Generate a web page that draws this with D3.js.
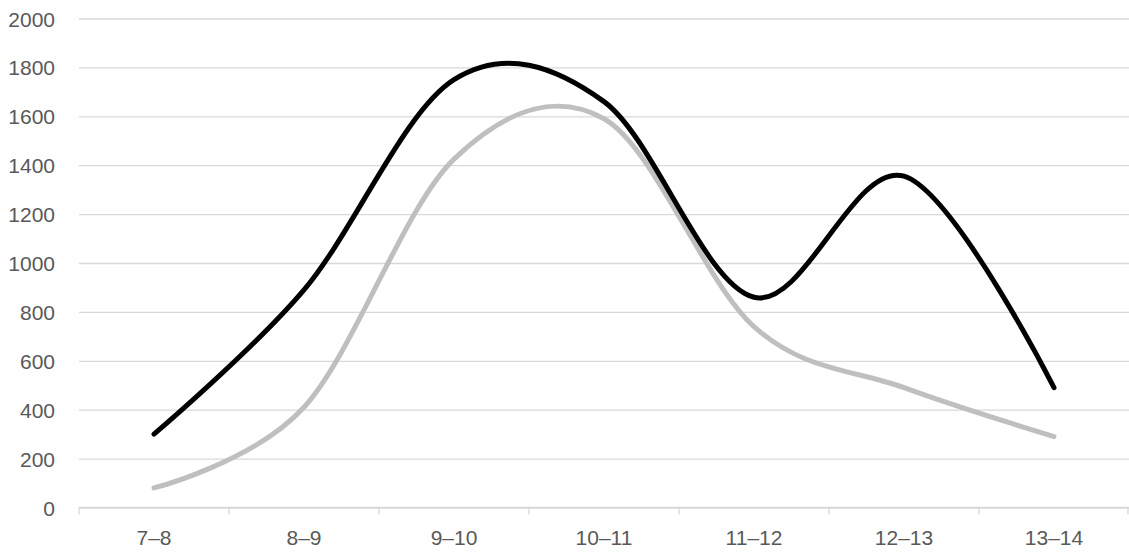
<!DOCTYPE html>
<html>
<head>
<meta charset="utf-8">
<script src="https://cdn.jsdelivr.net/npm/d3@7"></script>
<style>
  html, body { margin: 0; padding: 0; background: #fff; }
  svg { display: block; }
  text { font-family: "Liberation Sans", Arial, sans-serif; }
</style>
</head>
<body>
<svg id="chart" width="1129" height="552"></svg>
<script>
const categories = ["7–8", "8–9", "9–10", "10–11", "11–12", "12–13", "13–14"];
const seriesBlack = [300, 890, 1750, 1660, 860, 1355, 490];
const seriesGray = [80, 410, 1425, 1590, 740, 490, 290];
const yTicks = [0, 200, 400, 600, 800, 1000, 1200, 1400, 1600, 1800, 2000];

const W = 1129, H = 552;
const margin = { left: 79, right: 0, top: 18.5, bottom: 44.5 };
const svg = d3.select("#chart");

const x = d3.scaleBand().domain(categories).range([margin.left, W - margin.right]).padding(0);
const y = d3.scaleLinear().domain([0, 2000]).range([H - margin.bottom, margin.top]);

// gridlines
const yAxis = d3.axisLeft(y).tickValues(yTicks).tickSize(-(W - margin.left - margin.right)).tickPadding(24).tickFormat(d3.format("d"));
const gy = svg.append("g").attr("transform", `translate(${margin.left},0)`).call(yAxis);
gy.select(".domain").remove();
gy.selectAll(".tick line").attr("stroke", "#d9d9d9").attr("stroke-width", 1.3);
gy.selectAll(".tick text").attr("fill", "#595959").attr("font-size", 21).attr("dy", "0.36em");

// x axis
const gx = svg.append("g").attr("transform", `translate(0,${y(0)})`);
gx.append("line").attr("x1", margin.left).attr("x2", W - margin.right).attr("stroke", "#d9d9d9").attr("stroke-width", 1.3);
const bounds = categories.map(c => x(c)).concat([x(categories[categories.length - 1]) + x.bandwidth()]);
gx.selectAll(".bt").data(bounds).enter().append("line")
  .attr("x1", d => Math.min(d, W - 1)).attr("x2", d => Math.min(d, W - 1))
  .attr("y1", 0).attr("y2", 7).attr("stroke", "#d9d9d9").attr("stroke-width", 1.3);
gx.selectAll(".lbl").data(categories).enter().append("text")
  .attr("x", d => x(d) + x.bandwidth() / 2).attr("y", 37.5)
  .attr("text-anchor", "middle").attr("fill", "#595959").attr("font-size", 21)
  .text(d => d);

const line = d3.line()
  .x((d, i) => x(categories[i]) + x.bandwidth() / 2)
  .y(d => y(d))
  .curve(d3.curveCardinal.tension(0));

svg.append("path").datum(seriesGray).attr("d", line)
  .attr("fill", "none").attr("stroke", "#bfbfbf").attr("stroke-width", 5)
  .attr("stroke-linecap", "round").attr("stroke-linejoin", "round");
svg.append("path").datum(seriesBlack).attr("d", line)
  .attr("fill", "none").attr("stroke", "#000").attr("stroke-width", 5)
  .attr("stroke-linecap", "round").attr("stroke-linejoin", "round");
</script>
</body>
</html>
